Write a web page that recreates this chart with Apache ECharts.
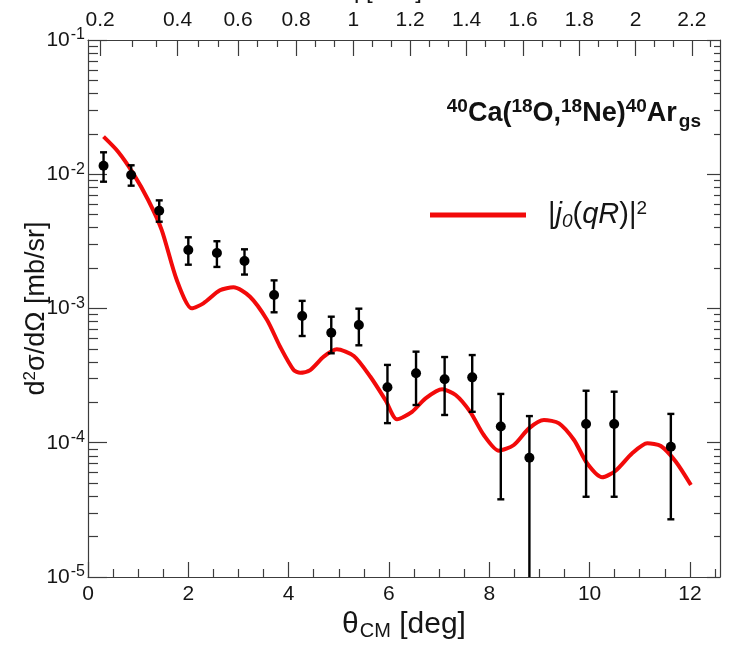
<!DOCTYPE html>
<html>
<head>
<meta charset="utf-8">
<script src="https://cdn.jsdelivr.net/npm/echarts@6/dist/echarts.min.js"></script>
<style>
  html, body { margin: 0; padding: 0; background: #fff; }
  #chart { width: 729px; height: 645px; }
</style>
</head>
<body>
<div id="chart"></div>
<script>
// Measured double-differential cross section, 40Ca(18O,18Ne)40Ar ground state
const thetaDeg = [0.31, 0.86, 1.42, 2.00, 2.57, 3.12, 3.71, 4.27, 4.85, 5.40, 5.97, 6.54, 7.11, 7.66, 8.23, 8.80, 9.93, 10.49, 11.62];
const crossSection = [0.01158, 0.00987, 0.00535, 0.00273, 0.00259, 0.00226, 0.00126, 0.000879, 0.000660, 0.000754,
  0.000259, 0.000329, 0.000297, 0.000307, 0.000132, 0.0000774, 0.000138, 0.000138, 0.0000935];
const errUpper = [0.01457, 0.01166, 0.00639, 0.00339, 0.00317, 0.00276, 0.00162, 0.00114, 0.000869, 0.000997,
  0.000380, 0.000477, 0.000435, 0.000450, 0.000231, 0.000158, 0.000244, 0.000240, 0.000164];
// 0 means the lower error reaches zero (runs off the bottom of the log axis)
const errLower = [0.00880, 0.00822, 0.00443, 0.00212, 0.00204, 0.00179, 0.000937, 0.000624, 0.000464, 0.000532,
  0.000140, 0.000191, 0.000161, 0.000170, 0.0000379, 0, 0.0000396, 0.0000396, 0.0000269];

// |j0(qR)|^2 curve (scaled)
const curveTheta = [0.31, 0.60, 0.90, 1.20, 1.47, 1.77, 2.07, 2.30, 2.63, 2.90, 3.23, 3.57, 3.83, 4.10, 4.23, 4.43,
  4.70, 4.96, 5.30, 5.63, 5.93, 6.16, 6.46, 6.73, 7.06, 7.33, 7.62, 7.89, 8.19, 8.49, 8.79, 9.09, 9.39, 9.69,
  9.95, 10.25, 10.52, 10.85, 11.15, 11.42, 11.72, 12.02];
const curveValue = [0.01905, 0.01472, 0.01016, 0.00643, 0.00384, 0.00163, 0.001003, 0.001093, 0.001367, 0.001438,
  0.001224, 0.000821, 0.000519, 0.000348, 0.000332, 0.000348, 0.000438, 0.000497, 0.000443, 0.000310, 0.000208,
  0.0001495, 0.000170, 0.000214, 0.000250, 0.000227, 0.000170, 0.0001142, 0.0000873, 0.0000962, 0.000128,
  0.0001478, 0.0001396, 0.0001048, 0.0000703, 0.0000553, 0.0000619, 0.0000834, 0.0000991, 0.0000946,
  0.0000722, 0.0000484];

// Axis tick values
const thetaMajorTicks = [0, 2, 4, 6, 8, 10, 12];
const thetaMinorTicks = [0.5, 1, 1.5, 2.5, 3, 3.5, 4.5, 5, 5.5, 6.5, 7, 7.5, 8.5, 9, 9.5, 10.5, 11, 11.5, 12.5];
const qMajorTicks = [0.2, 0.4, 0.6, 0.8, 1, 1.2, 1.4, 1.6, 1.8, 2, 2.2];
const yDecades = [1e-5, 1e-4, 1e-3, 1e-2, 1e-1];

const THETA_MAX = 12.6;
const Y_MIN = 1e-5, Y_MAX = 1e-1;

// Momentum transfer vs. CM angle: q^2 = A + B*theta + C*theta^2 (theta in deg, q in fm^-1)
const QA = 0.0351, QB = 0.0127, QC = 0.03209;
function thetaOfQ(q) {
  const disc = QB * QB - 4 * QC * (QA - q * q);
  if (disc < 0) return NaN;
  return (-QB + Math.sqrt(disc)) / (2 * QC);
}

const qMinorTicks = [];
for (let i = 0; i < qMajorTicks.length; i++) {
  const q0 = qMajorTicks[i];
  [q0 - 0.2 / 3, q0 + 0.2 / 3, q0 + 0.4 / 3].forEach(function (q) {
    if (i > 0 && q < q0) return;
    qMinorTicks.push(q);
  });
}
const topMajorTheta = qMajorTicks.map(thetaOfQ);
const topMinorTheta = qMinorTicks.map(thetaOfQ).filter(function (t) { return t > 0 && t < THETA_MAX; });
const topLabelOf = {};
topMajorTheta.forEach(function (t, i) { topLabelOf[t.toFixed(6)] = String(qMajorTicks[i]); });

const yMinorTicks = [];
yDecades.slice(0, -1).forEach(function (d) {
  for (let k = 2; k <= 9; k++) yMinorTicks.push(d * k);
});

const FONT = '"Liberation Sans", Arial, Helvetica, sans-serif';
const NARROW = '"Liberation Sans Narrow", "Liberation Sans", Arial, sans-serif';
const AXIS_COLOR = '#3c3c3c';
const TEXT_COLOR = '#151515';

const pointData = thetaDeg.map(function (t, i) { return [t, crossSection[i]]; });
const errData = thetaDeg.map(function (t, i) { return [t, errLower[i], errUpper[i]]; });
const curveData = curveTheta.map(function (t, i) { return [t, curveValue[i]]; });

function lineAxis(extra) {
  return Object.assign({
    gridIndex: 0,
    splitLine: { show: false },
    axisLine: { show: false, onZero: false, lineStyle: { color: AXIS_COLOR, width: 1.2 } },
    axisTick: { show: true, inside: true, lineStyle: { color: AXIS_COLOR, width: 1.2 } },
    axisLabel: { show: false },
    minorTick: { show: false }
  }, extra);
}

const xAxes = [
  // bottom: theta_CM, labelled majors
  lineAxis({
    type: 'value', position: 'bottom', min: 0, max: THETA_MAX,
    axisLine: { show: true, onZero: false, lineStyle: { color: AXIS_COLOR, width: 1.2 } },
    axisTick: { show: true, inside: true, length: 15, customValues: thetaMajorTicks, lineStyle: { color: AXIS_COLOR, width: 1.2 } },
    axisLabel: { show: true, customValues: thetaMajorTicks, fontSize: 21, margin: 7, color: TEXT_COLOR, fontFamily: FONT },
    name: '{a|θ}{sub|CM}{a| [deg]}',
    nameLocation: 'middle', nameGap: 30,
    nameTextStyle: {
      rich: {
        a: { fontSize: 30, fontFamily: FONT, color: TEXT_COLOR, lineHeight: 34 },
        sub: { fontSize: 20, fontFamily: FONT, color: TEXT_COLOR, verticalAlign: 'bottom', lineHeight: 20, padding: [12, 0, 0, 1] }
      }
    }
  }),
  // bottom minor ticks
  lineAxis({
    type: 'value', position: 'bottom', min: 0, max: THETA_MAX,
    axisTick: { show: true, inside: true, length: 8, customValues: thetaMinorTicks, lineStyle: { color: AXIS_COLOR, width: 1.2 } }
  }),
  // top: momentum transfer q, labelled majors
  lineAxis({
    type: 'value', position: 'top', min: 0, max: THETA_MAX,
    axisLine: { show: true, onZero: false, lineStyle: { color: AXIS_COLOR, width: 1.2 } },
    axisTick: { show: true, inside: true, length: 16, customValues: topMajorTheta, lineStyle: { color: AXIS_COLOR, width: 1.2 } },
    axisLabel: {
      show: true, customValues: topMajorTheta, fontSize: 21, margin: 9, color: TEXT_COLOR, fontFamily: FONT,
      formatter: function (v) { return topLabelOf[v.toFixed(6)] || ''; }
    },
    name: 'q [fm⁻¹]',
    nameLocation: 'middle', nameGap: 37,
    nameTextStyle: { fontSize: 24, fontFamily: FONT, color: TEXT_COLOR, padding: [0, 40, 0, 0] }
  }),
  // top minor ticks
  lineAxis({
    type: 'value', position: 'top', min: 0, max: THETA_MAX,
    axisTick: { show: true, inside: true, length: 7, customValues: topMinorTheta, lineStyle: { color: AXIS_COLOR, width: 1.2 } }
  })
];

const yAxes = [
  // left: labelled decades
  lineAxis({
    type: 'log', logBase: 10, position: 'left', min: Y_MIN, max: Y_MAX,
    axisLine: { show: true, onZero: false, lineStyle: { color: AXIS_COLOR, width: 1.2 } },
    axisTick: { show: true, inside: true, length: 19, customValues: yDecades, lineStyle: { color: AXIS_COLOR, width: 1.2 } },
    axisLabel: {
      show: true, customValues: yDecades, margin: 3, color: TEXT_COLOR, fontFamily: FONT,
      formatter: function (v) { return '{b|10}{s|' + Math.round(Math.log10(v)) + '}'; },
      rich: {
        b: { fontSize: 21, fontFamily: FONT, color: TEXT_COLOR, lineHeight: 26 },
        s: { fontSize: 16, fontFamily: FONT, color: TEXT_COLOR, verticalAlign: 'top', lineHeight: 16, padding: [0, 0, 0, 1] }
      }
    },
    name: '{a|d}{s|2}{a|σ/dΩ [mb/sr]}',
    nameLocation: 'middle', nameGap: 36, nameRotate: 90, nameMoveOverlap: false,
    nameTextStyle: {
      rich: {
        a: { fontSize: 27, fontFamily: NARROW, color: TEXT_COLOR, lineHeight: 30 },
        s: { fontSize: 17, fontFamily: NARROW, color: TEXT_COLOR, verticalAlign: 'top', lineHeight: 17 }
      }
    }
  }),
  // left minor ticks
  lineAxis({
    type: 'log', logBase: 10, position: 'left', min: Y_MIN, max: Y_MAX,
    axisTick: { show: true, inside: true, length: 10, customValues: yMinorTicks, lineStyle: { color: AXIS_COLOR, width: 1.2 } }
  }),
  // right mirror: decades
  lineAxis({
    type: 'log', logBase: 10, position: 'right', min: Y_MIN, max: Y_MAX,
    axisLine: { show: true, onZero: false, lineStyle: { color: AXIS_COLOR, width: 1.2 } },
    axisTick: { show: true, inside: true, length: 13, customValues: yDecades, lineStyle: { color: AXIS_COLOR, width: 1.2 } }
  }),
  // right minor ticks
  lineAxis({
    type: 'log', logBase: 10, position: 'right', min: Y_MIN, max: Y_MAX,
    axisTick: { show: true, inside: true, length: 6, customValues: yMinorTicks, lineStyle: { color: AXIS_COLOR, width: 1.2 } }
  })
];

const chart = echarts.init(document.getElementById('chart'), null, { renderer: 'canvas' });

chart.setOption({
  animation: false,
  backgroundColor: '#ffffff',
  grid: { left: 88, right: 9, top: 40, bottom: 68, containLabel: false, outerBoundsMode: 'none' },
  title: {
    text: '{s|40}{m|Ca(}{s|18}{m|O,}{s|18}{m|Ne)}{s|40}{m|Ar}{g|gs}',
    right: 28, top: 97, padding: 0,
    textStyle: {
      rich: {
        m: { fontSize: 27, fontWeight: 'bold', fontFamily: FONT, color: '#111', lineHeight: 34 },
        s: { fontSize: 19, fontWeight: 'bold', fontFamily: FONT, color: '#111', verticalAlign: 'top', lineHeight: 19 },
        g: { fontSize: 19, fontWeight: 'bold', fontFamily: FONT, color: '#111', verticalAlign: 'bottom', lineHeight: 19, padding: [0, 0, 0, 2] }
      }
    }
  },
  legend: {
    left: 430, top: 199, padding: 0,
    selectedMode: false,
    icon: 'rect', itemWidth: 96, itemHeight: 5,
    data: ['|j0(qR)|2'],
    formatter: function () {
      return '{p|}{n||}{i|j}{sub|0}{n|(}{i|qR}{n|)|}{sup|2}';
    },
    textStyle: {
      rich: {
        p: { width: 17, lineHeight: 32 },
        n: { fontSize: 29, fontFamily: NARROW, color: TEXT_COLOR, lineHeight: 32 },
        i: { fontSize: 29, fontFamily: NARROW, fontStyle: 'italic', color: TEXT_COLOR, lineHeight: 32 },
        sub: { fontSize: 19, fontFamily: NARROW, fontStyle: 'italic', color: TEXT_COLOR, verticalAlign: 'bottom', lineHeight: 19 },
        sup: { fontSize: 19, fontFamily: NARROW, color: TEXT_COLOR, verticalAlign: 'top', lineHeight: 19 }
      }
    }
  },
  xAxis: xAxes,
  yAxis: yAxes,
  series: [
    {
      name: '|j0(qR)|2',
      type: 'line',
      xAxisIndex: 0, yAxisIndex: 0,
      data: curveData,
      showSymbol: false,
      smooth: 0.25,
      lineStyle: { color: '#f20a0a', width: 4 },
      itemStyle: { color: '#f20a0a' },
      z: 2
    },
    {
      name: 'error',
      type: 'custom',
      xAxisIndex: 0, yAxisIndex: 0,
      data: errData,
      encode: { x: 0, y: 2 },
      clip: true,
      z: 3,
      renderItem: function (params, api) {
        const t = api.value(0);
        const lo = Math.max(api.value(1), Y_MIN);
        const hi = api.value(2);
        const pTop = api.coord([t, hi]);
        const pBot = api.coord([t, lo]);
        const cap = 3.5;
        const style = { stroke: '#000', lineWidth: 2.4 };
        const children = [
          { type: 'line', shape: { x1: pTop[0], y1: pTop[1], x2: pBot[0], y2: pBot[1] }, style: style },
          { type: 'line', shape: { x1: pTop[0] - cap, y1: pTop[1], x2: pTop[0] + cap, y2: pTop[1] }, style: style }
        ];
        if (api.value(1) > Y_MIN) {
          children.push({ type: 'line', shape: { x1: pBot[0] - cap, y1: pBot[1], x2: pBot[0] + cap, y2: pBot[1] }, style: style });
        }
        return { type: 'group', children: children };
      }
    },
    {
      name: 'data',
      type: 'scatter',
      xAxisIndex: 0, yAxisIndex: 0,
      data: pointData,
      symbol: 'circle',
      symbolSize: 10,
      itemStyle: { color: '#000', opacity: 1 },
      z: 4
    }
  ]
});
</script>
</body>
</html>
